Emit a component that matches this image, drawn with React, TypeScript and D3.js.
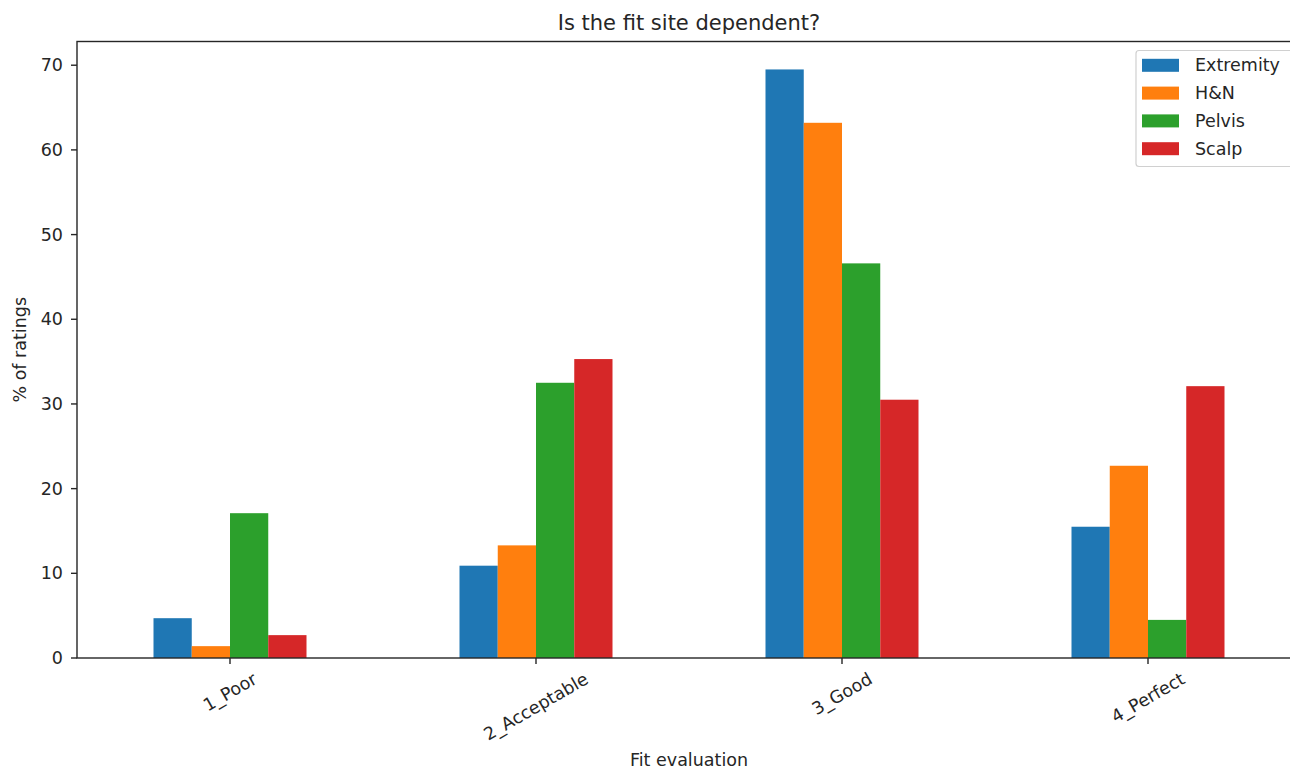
import React, { useEffect, useRef } from 'react';
import * as d3 from 'd3';

const categories = ['1_Poor', '2_Acceptable', '3_Good', '4_Perfect'];
const seriesNames = ['Extremity', 'H&N', 'Pelvis', 'Scalp'];
const extremity = [4.7, 10.9, 69.5, 15.5];
const hn = [1.4, 13.3, 63.2, 22.7];
const pelvis = [17.1, 32.5, 46.6, 4.5];
const scalp = [2.7, 35.3, 30.5, 32.1];
const yTicks = [0, 10, 20, 30, 40, 50, 60, 70];
const colors = ['#1f77b4', '#ff7f0e', '#2ca02c', '#d62728'];
const title = 'Is the fit site dependent?';
const xLabel = 'Fit evaluation';
const yLabel = '% of ratings';

const W = 1290;
const H = 769;
const FONT = 'DejaVu Sans, Verdana, sans-serif';

export default function App() {
  const ref = useRef<SVGSVGElement>(null);

  useEffect(() => {
    const svg = d3.select(ref.current);
    svg.selectAll('*').remove();
    const series = [extremity, hn, pelvis, scalp];

    const left = 77, right = 1301, top = 41.5, bottom = 658;
    const x = d3.scaleLinear().domain([-0.5, categories.length - 0.5]).range([left, right]);
    const y = d3.scaleLinear().domain([0, 72.8]).range([bottom, top]);
    const bw = 0.125;
    const ink = '#262626';

    // bars
    series.forEach((vals, j) => {
      svg.append('g')
        .selectAll('rect')
        .data(vals)
        .join('rect')
        .attr('x', (_, i) => x(i + (j - 2) * bw))
        .attr('width', x(bw) - x(0))
        .attr('y', (d) => y(d))
        .attr('height', (d) => y(0) - y(d))
        .attr('fill', colors[j]);
    });

    // spines
    svg.append('rect')
      .attr('x', left).attr('y', top)
      .attr('width', right - left).attr('height', bottom - top)
      .attr('fill', 'none').attr('stroke', ink).attr('stroke-width', 1.4);

    // y ticks
    const yg = svg.append('g');
    yTicks.forEach((t) => {
      yg.append('line')
        .attr('x1', left - 6).attr('x2', left)
        .attr('y1', y(t)).attr('y2', y(t))
        .attr('stroke', ink).attr('stroke-width', 1.4);
      yg.append('text')
        .attr('x', left - 14).attr('y', y(t))
        .attr('text-anchor', 'end')
        .attr('dominant-baseline', 'central')
        .attr('font-family', FONT).attr('font-size', 17.5)
        .attr('fill', ink)
        .text(String(t));
    });

    // x ticks
    const xg = svg.append('g');
    categories.forEach((c, i) => {
      xg.append('line')
        .attr('x1', x(i)).attr('x2', x(i))
        .attr('y1', bottom).attr('y2', bottom + 6)
        .attr('stroke', ink).attr('stroke-width', 1.4);
      const t = xg.append('text')
        .attr('text-anchor', 'middle')
        .attr('dominant-baseline', 'central')
        .attr('font-family', FONT).attr('font-size', 17.5)
        .attr('fill', ink)
        .text(c);
      const w = (t.node() as SVGTextElement).getComputedTextLength();
      const h = 17.5 * 1.1;
      const bh = w * Math.sin(Math.PI / 6) + h * Math.cos(Math.PI / 6);
      const cy = bottom + 11 + bh / 2;
      t.attr('transform', `translate(${x(i)},${cy}) rotate(-30)`);
    });

    // axis labels
    svg.append('text')
      .attr('x', (left + right) / 2).attr('y', 760)
      .attr('text-anchor', 'middle').attr('dominant-baseline', 'central')
      .attr('font-family', FONT).attr('font-size', 17.5).attr('fill', ink)
      .text(xLabel);
    svg.append('text')
      .attr('transform', `translate(20,${(top + bottom) / 2}) rotate(-90)`)
      .attr('text-anchor', 'middle').attr('dominant-baseline', 'central')
      .attr('font-family', FONT).attr('font-size', 17.5).attr('fill', ink)
      .text(yLabel);

    // title
    svg.append('text')
      .attr('x', (left + right) / 2).attr('y', 23)
      .attr('text-anchor', 'middle').attr('dominant-baseline', 'central')
      .attr('font-family', FONT).attr('font-size', 21).attr('fill', ink)
      .text(title);

    // legend
    const lg = svg.append('g');
    lg.append('rect')
      .attr('x', 1136).attr('y', 50.5)
      .attr('width', 157).attr('height', 116)
      .attr('rx', 3)
      .attr('fill', 'white').attr('fill-opacity', 0.8)
      .attr('stroke', '#d0d0d0').attr('stroke-width', 1.2);
    seriesNames.forEach((n, j) => {
      const cy = 65.3 + j * 27.8;
      lg.append('rect')
        .attr('x', 1142).attr('y', cy - 6.5)
        .attr('width', 37).attr('height', 13)
        .attr('fill', colors[j]);
      lg.append('text')
        .attr('x', 1195).attr('y', cy)
        .attr('dominant-baseline', 'central')
        .attr('font-family', FONT).attr('font-size', 17.5).attr('fill', ink)
        .text(n);
    });
  }, []);

  return (
    <svg
      ref={ref}
      width={W}
      height={H}
      style={{ position: 'absolute', left: 0, top: 0, background: 'white' }}
    />
  );
}
